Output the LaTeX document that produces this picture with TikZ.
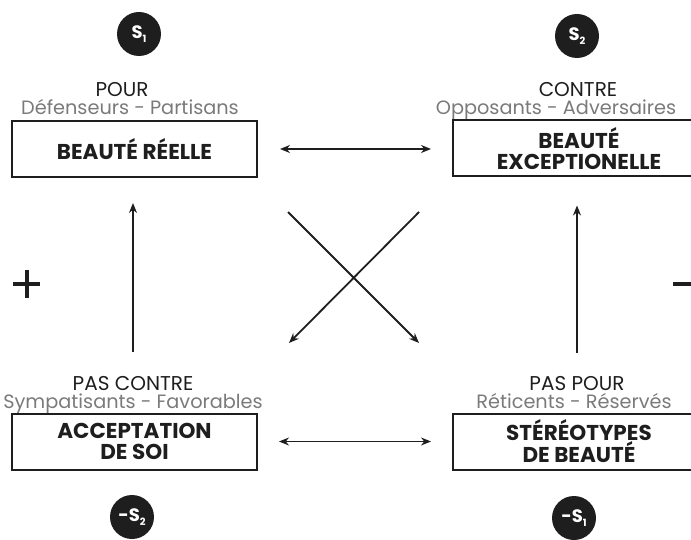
\documentclass[tikz,border=0pt]{standalone}
\usepackage{fontspec}
\setmainfont{Poppins}
\usetikzlibrary{arrows.meta}
\definecolor{ink}{HTML}{1E1E1E}
\definecolor{subgray}{HTML}{7A7A7A}
\newcommand{\subidx}[1]{\raisebox{-3.5pt}{\fontsize{10}{10}\selectfont #1}}
\begin{document}
\begin{tikzpicture}[x=1pt,y=-1pt,
  box/.style={draw=ink, line width=2pt, minimum width=245pt, minimum height=56pt,
    inner sep=0pt, align=center, text=ink,
    font=\bfseries\fontsize{21.5}{21}\selectfont},
  rbox/.style={box, minimum width=252pt},
  circ/.style={circle, fill=ink, minimum size=44pt, inner sep=0pt, text=white,
    font=\bfseries\fontsize{18}{18}\selectfont},
  head/.style={anchor=base, inner sep=0pt, text=ink, font=\fontsize{20}{20}\selectfont},
  sub/.style={anchor=base, inner sep=0pt, text=subgray, font=\fontsize{19.3}{19.3}\selectfont},
  arr/.style={-{Stealth[length=10pt,width=8pt]}, line width=1.8pt, draw=ink},
  darr/.style={{Stealth[length=10pt,width=8pt]}-{Stealth[length=10pt,width=8pt]}, line width=1.6pt, draw=ink},
  sign/.style={line width=4pt, draw=ink}
]
\useasboundingbox (0,0) rectangle (691,540);

% boxes
\node[box]  (b1) at (134.5,149) {BEAUTÉ RÉELLE};
\node[rbox] (b2) at (579,148.5) {BEAUTÉ\\EXCEPTIONELLE};
\node[box]  (b3) at (134.5,441.5) {ACCEPTATION\\DE SOI};
\node[rbox] (b4) at (579,441.5) {STÉRÉOTYPES\\DE BEAUTÉ};

% circles
\node[circ] (c1) at (139,34) {S\subidx{1}};
\node[circ] (c2) at (577,36) {S\subidx{2}};
\node[circ] (c3) at (132,517) {-S\subidx{2}};
\node[circ] (c4) at (574,518) {-S\subidx{1}};

% headings
\node[head] (h1) at (122,97) {POUR};
\node[sub]  (s1) at (130,115) {Défenseurs - Partisans};
\node[head] (h2) at (578,97) {CONTRE};
\node[sub]  (s2) at (556,115) {Opposants - Adversaires};
\node[head] (h3) at (133,390) {PAS CONTRE};
\node[sub]  (s3) at (133,408) {Sympatisants - Favorables};
\node[head] (h4) at (577,390) {PAS POUR};
\node[sub]  (s4) at (574,408) {Réticents - Réservés};

% horizontal arrows
\draw[darr, shorten <=22pt, shorten >=21pt] (b1.east) -- (b2.west |- b1.east);
\draw[darr, shorten <=21pt, shorten >=21pt] (b3.east) -- (b4.west);

% vertical arrows
\draw[arr] ([xshift=-1.5pt,yshift=61pt]b3.north) -- ([xshift=-1.5pt,yshift=-25pt]b1.south);
\draw[arr] ([yshift=60pt]b4.north -| c2) -- ([yshift=-28pt]b2.south -| c2);

% cross
\coordinate (xa) at (288,212);
\coordinate (xb) at (419,343);
\coordinate (xc) at (419,212);
\coordinate (xd) at (289,343);
\draw[arr] (xa) -- (xb);
\draw[arr] (xc) -- (xd);

% signs
\draw[sign] (13,284) -- (40,284);
\draw[sign] (26.5,270.5) -- (26.5,297.5);
\draw[sign] (673,284) -- (692,284);
\end{tikzpicture}
\end{document}
